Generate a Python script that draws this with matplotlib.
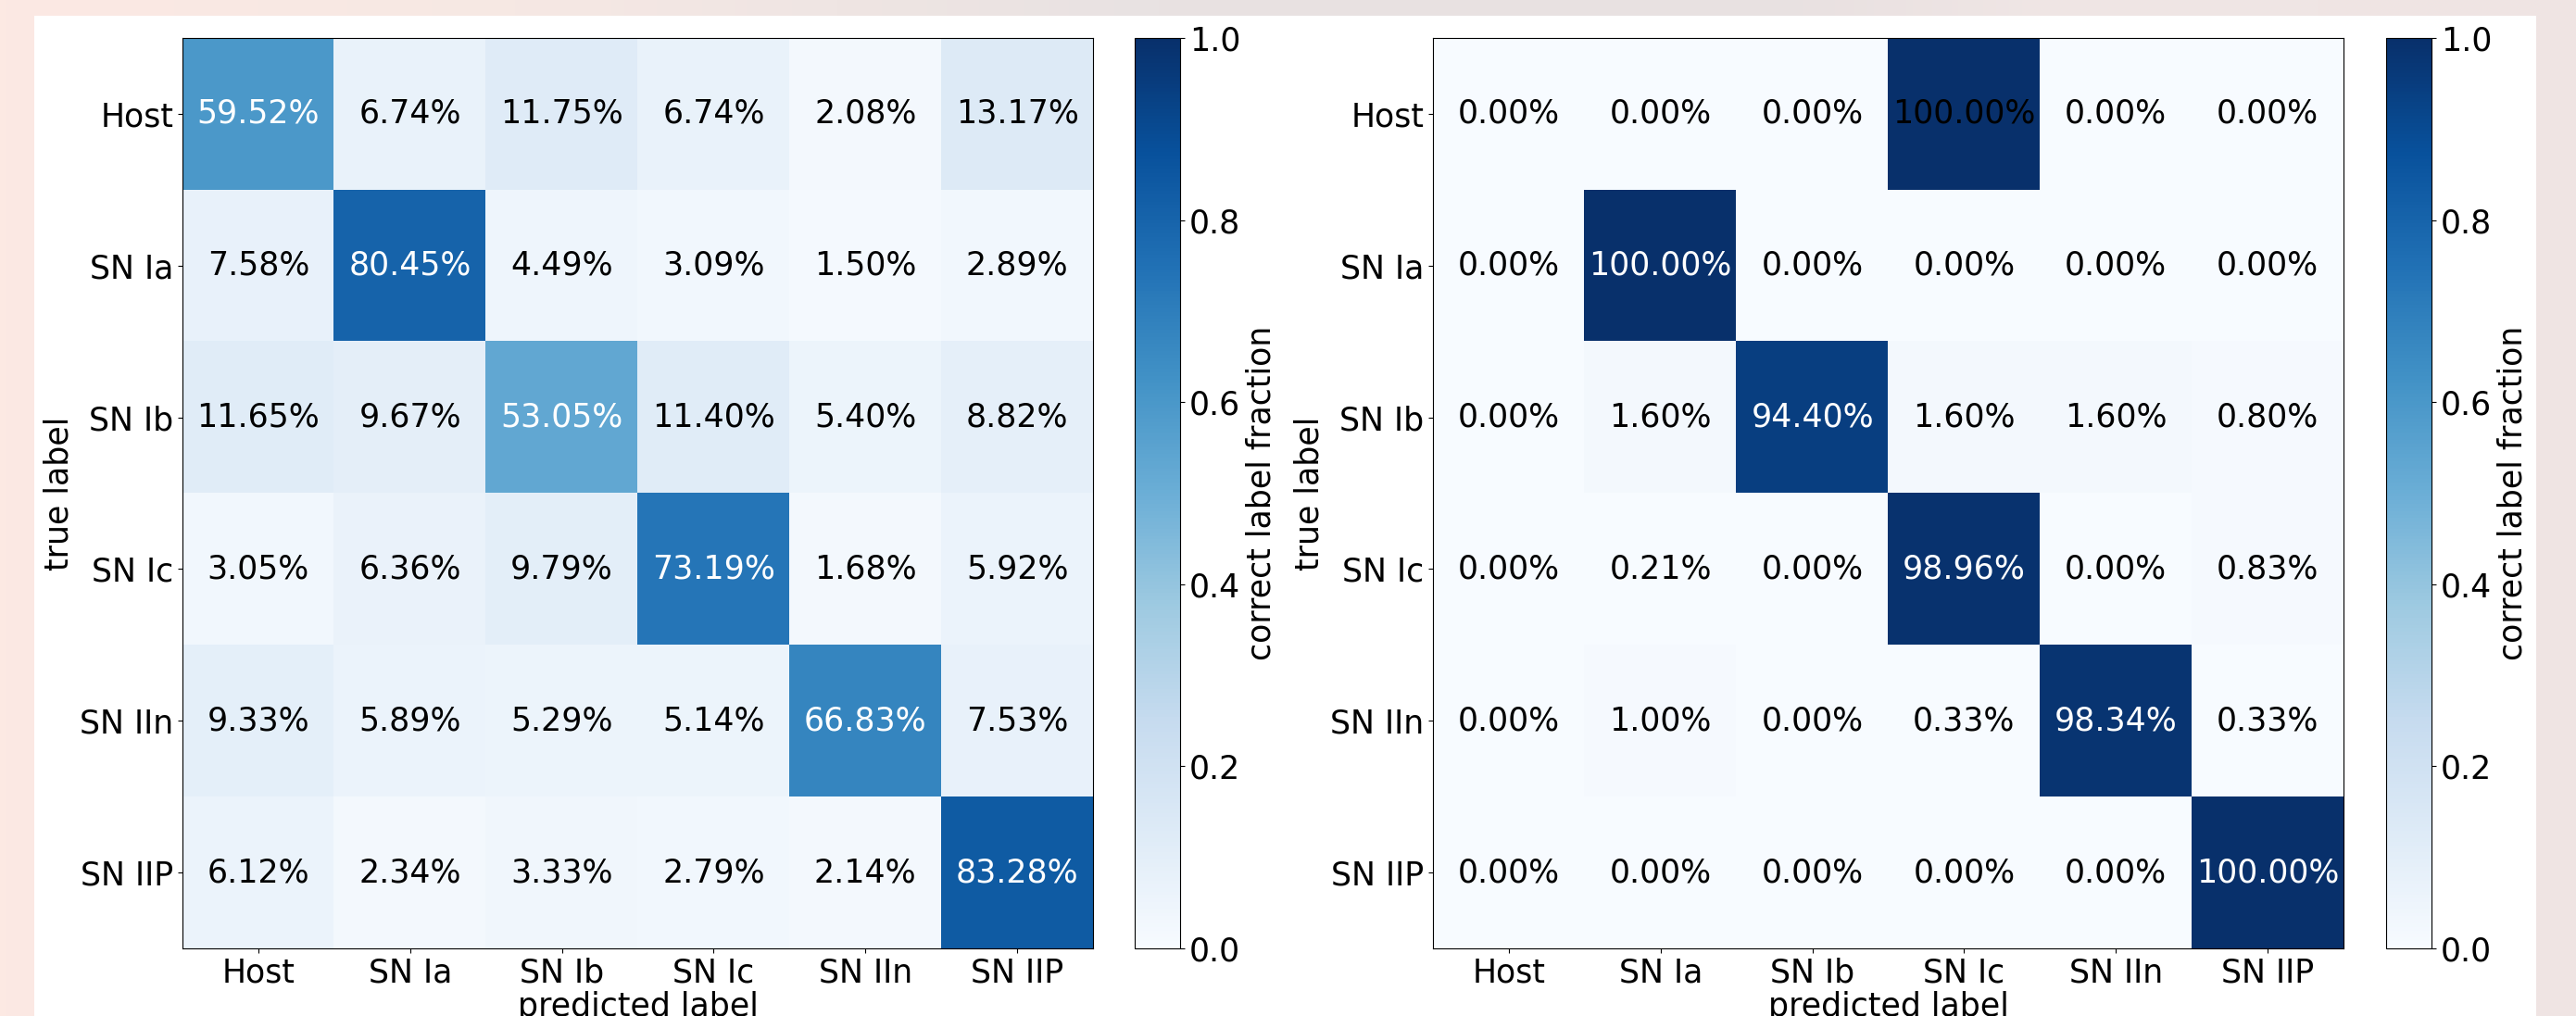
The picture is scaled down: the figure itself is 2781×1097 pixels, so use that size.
import numpy as np
import matplotlib
matplotlib.use("Agg")
import matplotlib.pyplot as plt
from matplotlib.patches import Rectangle

classes = ["Host", "SN Ia", "SN Ib", "SN Ic", "SN IIn", "SN IIP"]

# confusion matrices in percent (rows: true label, cols: predicted label)
cm_left = [
    [59.52, 6.74, 11.75, 6.74, 2.08, 13.17],
    [7.58, 80.45, 4.49, 3.09, 1.50, 2.89],
    [11.65, 9.67, 53.05, 11.40, 5.40, 8.82],
    [3.05, 6.36, 9.79, 73.19, 1.68, 5.92],
    [9.33, 5.89, 5.29, 5.14, 66.83, 7.53],
    [6.12, 2.34, 3.33, 2.79, 2.14, 83.28],
]
cm_right = [
    [0.00, 0.00, 0.00, 100.00, 0.00, 0.00],
    [0.00, 100.00, 0.00, 0.00, 0.00, 0.00],
    [0.00, 1.60, 94.40, 1.60, 1.60, 0.80],
    [0.00, 0.21, 0.00, 98.96, 0.00, 0.83],
    [0.00, 1.00, 0.00, 0.33, 98.34, 0.33],
    [0.00, 0.00, 0.00, 0.00, 0.00, 100.00],
]
# cells whose label stays black in the original despite the dark fill
right_black_cells = [(0, 3)]

cbar_ticks = [0.0, 0.2, 0.4, 0.6, 0.8, 1.0]

W, H = 2781, 1097
plt.rcParams['font.family'] = ['DejaVu Sans']
plt.rcParams['font.size'] = 25

fig = plt.figure(figsize=(W / 100, H / 100), dpi=100)

# soft photo-like backdrop behind the white panel
bg = fig.add_axes([0, 0, 1, 1], zorder=-10)
stops_x = [0.0, 0.2, 0.45, 0.7, 0.8, 1.0]
stops_c = np.array([[252, 233, 227], [246, 232, 228], [232, 226, 226],
                    [233, 225, 225], [240, 230, 229], [239, 228, 227]]) / 255.0
xs = np.linspace(0, 1, 400)
grad = np.stack([np.interp(xs, stops_x, stops_c[:, k]) for k in range(3)], axis=-1)
bg.imshow(grad[None, :, :], aspect='auto', extent=[0, 1, 0, 1])
bg.set_xlim(0, 1)
bg.set_ylim(0, 1)
bg.axis('off')
bg.add_patch(Rectangle((37 / W, 0), (2738 - 37) / W, 1 - 17 / H,
                       facecolor='white', edgecolor='none'))


def px_box(x0, x1, y0, y1):
    return [x0 / W, 1 - y1 / H, (x1 - x0) / W, (y1 - y0) / H]


def draw_cm(ax, cax, data, black_cells=()):
    m = np.array(data) / 100.0
    im = ax.imshow(m, cmap='Blues', vmin=0, vmax=1, interpolation='nearest', aspect='auto')
    for i in range(m.shape[0]):
        for j in range(m.shape[1]):
            color = 'white' if (m[i, j] > 0.5 and (i, j) not in black_cells) else 'black'
            ax.text(j, i, "%.2f%%" % data[i][j], ha='center', va='center',
                    color=color, fontsize=25)
    ax.set_xticks(range(len(classes)))
    ax.set_xticklabels(classes)
    ax.set_yticks(range(len(classes)))
    ax.set_yticklabels(classes)
    ax.set_xlabel("predicted label", labelpad=2)
    ax.set_ylabel("true label")
    cb = fig.colorbar(im, cax=cax, ticks=cbar_ticks)
    cb.set_label("correct label fraction")
    return im


ax1 = fig.add_axes(px_box(197, 1180, 41, 1024))
cax1 = fig.add_axes(px_box(1225, 1274, 41, 1024))
ax2 = fig.add_axes(px_box(1547, 2530, 41, 1024))
cax2 = fig.add_axes(px_box(2576, 2625, 41, 1024))

draw_cm(ax1, cax1, cm_left)
draw_cm(ax2, cax2, cm_right, right_black_cells)

fig.savefig("out.png", dpi=100)
